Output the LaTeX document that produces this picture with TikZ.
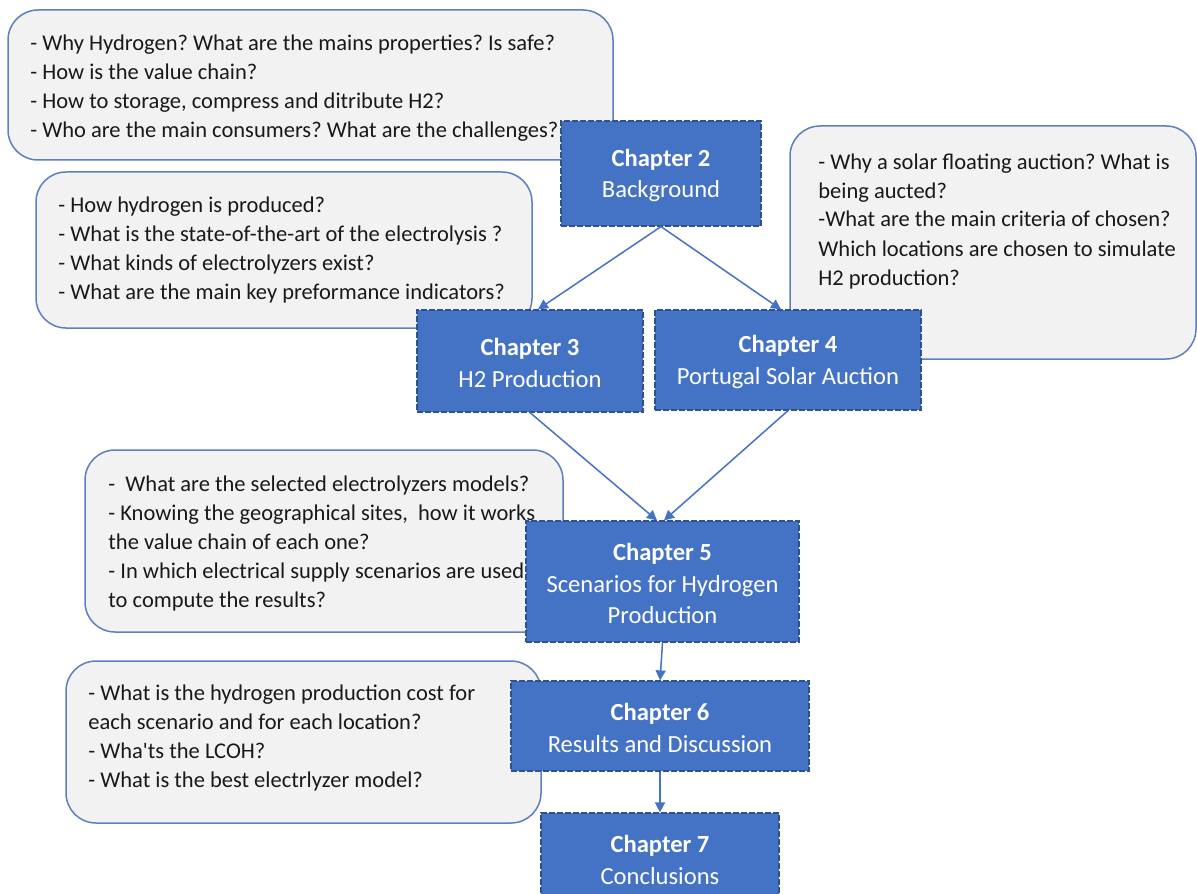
\documentclass[tikz,border=0pt]{standalone}
\usepackage{fontspec}
\setmainfont{Carlito}
\newfontfamily\straightfont{Carlito}
\usetikzlibrary{arrows.meta}
\definecolor{chblue}{HTML}{4472C4}
\definecolor{chedge}{HTML}{2F528F}
\definecolor{bubfill}{HTML}{F2F2F2}
\definecolor{bubedge}{HTML}{5B7FC0}
\frenchspacing
\begin{document}
\begin{tikzpicture}[x=0.5pt,y=-0.5pt,
 chap/.style={rectangle, fill=chblue, draw=chedge, line width=0.6pt, dash pattern=on 3pt off 1pt, inner sep=0pt},
 chaptext/.style={text=white, align=center, font=\fontsize{12.3}{15.75}\selectfont, inner sep=0pt, yshift=-1pt},
 bubble/.style={rectangle, rounded corners=15pt, fill=bubfill, draw=bubedge, line width=0.75pt, inner sep=0pt},
 qtext/.style={anchor=west, align=left, inner sep=0pt, font=\fontsize{11.25}{14.5}\selectfont, text=black!90, yshift=-1pt},
 link/.style={draw=chblue, line width=0.75pt, -{Triangle[width=5pt,length=5pt]}}]
\useasboundingbox (0,0) rectangle (1197,893);
% bubbles
\node[bubble, minimum width=302.5pt, minimum height=75pt] (b1) at (310.5,85) {};
\node[bubble, minimum width=248pt, minimum height=78pt] (b2) at (284,250) {};
\node[bubble, minimum width=203pt, minimum height=116.5pt] (b4) at (993,242.5) {};
\node[bubble, minimum width=239pt, minimum height=91pt] (b5) at (324,541) {};
\node[bubble, minimum width=237.5pt, minimum height=81pt] (b6) at (303.5,742) {};
% bubble texts
\node[qtext] (t1) at (30,86) {- Why Hydrogen? What are the mains properties? Is safe?\\- How is the value chain?\\- How to storage, compress and ditribute H2?\\- Who are the main consumers? What are the challenges?};
\node[qtext] (t2) at (58,248) {- How hydrogen is produced?\\- What is the state-of-the-art of the electrolysis ?\\- What kinds of electrolyzers exist?\\- What are the main key preformance indicators?};
\node[qtext] (t4) at (818,219) {- Why a solar floating auction? What is\\being aucted?\\-What are the main criteria of chosen?\\Which locations are chosen to simulate\\H2 production?};
\node[qtext] (t5) at (108,541) {-~ What are the selected electrolyzers models?\\- Knowing the geographical sites,~ how it works\\the value chain of each one?\\- In which electrical supply scenarios are used\\to compute the results?};
\node[qtext] (t6) at (88,736) {- What is the hydrogen production cost for\\each scenario and for each location?\\- Wha{\straightfont'}ts the LCOH?\\- What is the best electrlyzer model?};
% chapter boxes
\node[chap, minimum width=100pt, minimum height=52.5pt] (ch2) at (661,173.5) {};
\node[chap, minimum width=113pt, minimum height=51pt] (ch3) at (530,361) {};
\node[chap, minimum width=133pt, minimum height=50pt] (ch4) at (788,360) {};
\node[chap, minimum width=136.5pt, minimum height=60.5pt] (ch5) at (662.5,581.5) {};
\node[chap, minimum width=149pt, minimum height=45pt] (ch6) at (660,726) {};
\node[chap, minimum width=119pt, minimum height=45pt] (ch7) at (660,858) {};
\node[chaptext] (l2) at (ch2) {\textbf{Chapter 2}\\Background};
\node[chaptext] (l3) at (ch3) {\textbf{Chapter 3}\\H2 Production};
\node[chaptext] (l4) at (ch4) {\textbf{Chapter 4}\\Portugal Solar Auction};
\node[chaptext] (l5) at (ch5) {\textbf{Chapter 5}\\Scenarios for Hydrogen\\Production};
\node[chaptext] (l6) at (ch6) {\textbf{Chapter 6}\\Results and Discussion};
\node[chaptext] (l7) at (ch7) {\textbf{Chapter 7}\\Conclusions};
% connectors
\draw[link] (ch2.south) -- ([xshift=4pt]ch3.north);
\draw[link] (ch2.south) -- ([xshift=-3.5pt]ch4.north);
\draw[link] (ch3.south) -- ([xshift=-2.75pt]ch5.north);
\draw[link] (ch4.south) -- ([xshift=0.75pt]ch5.north);
\draw[link] (ch5.south) -- (ch6.north);
\draw[link] (ch6.south) -- (ch7.north);
\end{tikzpicture}
\end{document}
